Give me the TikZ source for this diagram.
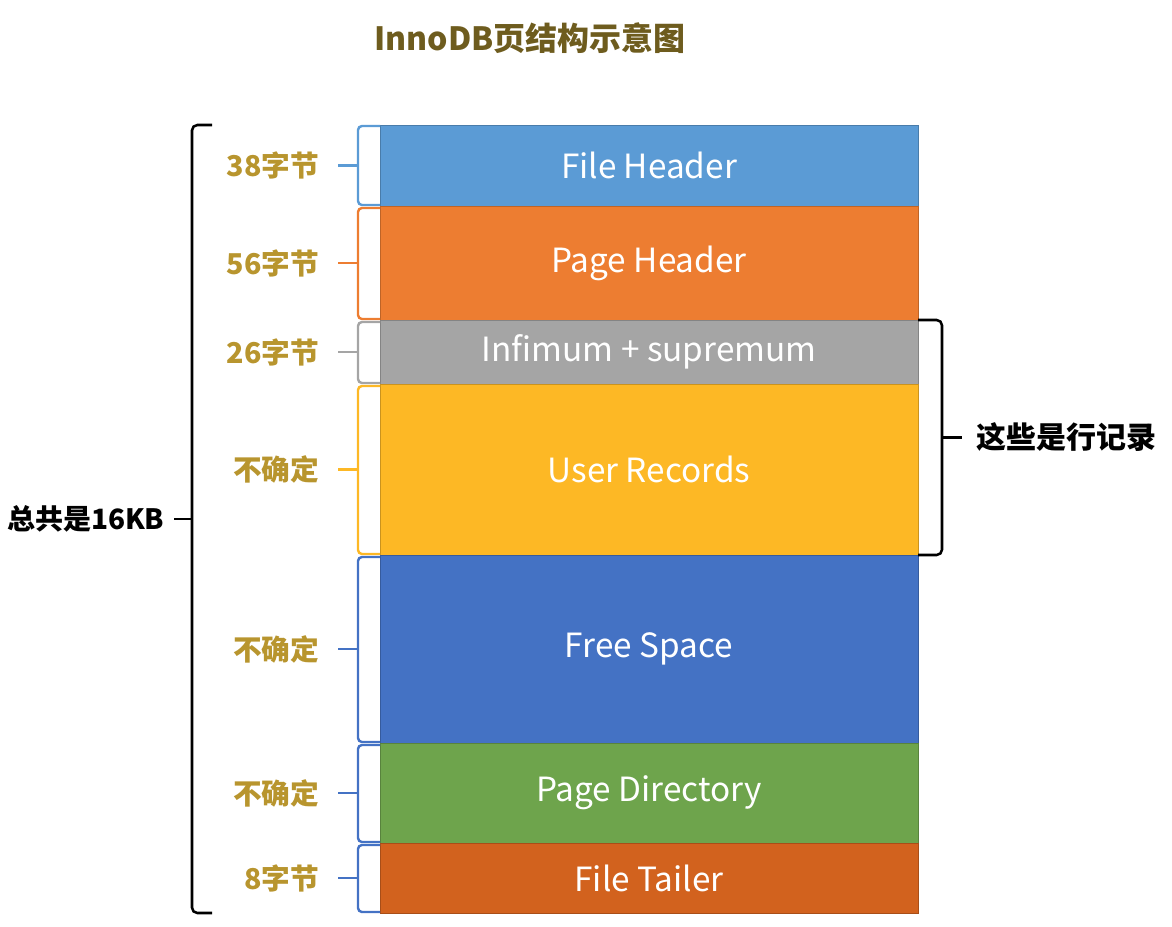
\documentclass[tikz,border=0pt]{standalone}
\usepackage{fontspec}
\setmainfont{Noto Sans CJK SC}
\usepackage{tikz}
\usetikzlibrary{positioning,calc}

\definecolor{fhblue}{HTML}{5B9BD5}
\definecolor{phorange}{HTML}{ED7D31}
\definecolor{infgray}{HTML}{A5A5A5}
\definecolor{uryellow}{HTML}{FDB825}
\definecolor{fsblue}{HTML}{4472C4}
\definecolor{pdgreen}{HTML}{6EA44C}
\definecolor{ftorange}{HTML}{D2621E}
\definecolor{lblgold}{HTML}{B8952E}
\definecolor{ttlbrown}{HTML}{6E5C1E}

\tikzset{
  blk/.style={anchor=north west, minimum width=403.5pt, inner sep=0pt, outer sep=0pt,
    text=white, font=\fontsize{25}{30}\selectfont, draw=#1!80!black, fill=#1, line width=0.4pt},
  sbrace/.style={line width=1.8pt, rounded corners=3pt},
  bbrace/.style={line width=1.9pt, rounded corners=4pt, black},
  sizelbl/.style={inner sep=0pt, text=lblgold, font=\fontsize{21.5}{24}\selectfont\bfseries},
  sidelbl/.style={inner sep=0pt, font=\fontsize{21}{24}\selectfont\bfseries}
}

\begin{document}
\begin{tikzpicture}[x=0.75pt,y=0.75pt,yscale=-1,xscale=1]
    \useasboundingbox (0,0) rectangle (1172,926);

    \node (ttl) at (530,38) [text=ttlbrown, font=\fontsize{24}{28}\selectfont\bfseries] {InnoDB页结构示意图};

    % page blocks
    \node[blk=fhblue, minimum height=60.75pt] (fh) at (380,125) {File Header};
    \node[blk=phorange, minimum height=85.5pt] (ph) at (fh.south west) {Page Header};
    \node[blk=infgray, minimum height=48pt] (inf) at (ph.south west) {Infimum + supremum};
    \node[blk=uryellow, minimum height=128.25pt] (ur) at (inf.south west) {User Records};
    \node[blk=fsblue, minimum height=141pt] (fs) at (ur.south west) {Free Space};
    \node[blk=pdgreen, minimum height=75pt] (pd) at (fs.south west) {Page Directory};
    \node[blk=ftorange, minimum height=52.5pt] (ft) at (pd.south west) {File Tailer};

    % small braces
    \draw[sbrace, fhblue] ($(fh.north west)+(0,1)$) -- ++(-22,0) -- ($(fh.south west)+(-22,-1)$) -- ++(22,0);
    \draw[sbrace, fhblue] ($(fh.west)+(-22,0)$) -- ++(-20,0) coordinate (fht);
    \draw[sbrace, phorange] ($(ph.north west)+(0,2)$) -- ++(-22,0) -- ($(ph.south west)+(-22,-1)$) -- ++(22,0);
    \draw[sbrace, phorange] ($(ph.west)+(-22,0)$) -- ++(-20,0) coordinate (pht);
    \draw[sbrace, infgray] ($(inf.north west)+(0,2)$) -- ++(-22,0) -- ($(inf.south west)+(-22,-1)$) -- ++(22,0);
    \draw[sbrace, infgray] ($(inf.west)+(-22,0)$) -- ++(-20,0) coordinate (inft);
    \draw[sbrace, uryellow] ($(ur.north west)+(0,2)$) -- ++(-22,0) -- ($(ur.south west)+(-22,-1)$) -- ++(22,0);
    \draw[sbrace, uryellow] ($(ur.west)+(-22,0)$) -- ++(-20,0) coordinate (urt);
    \draw[sbrace, fsblue] ($(fs.north west)+(0,2)$) -- ++(-22,0) -- ($(fs.south west)+(-22,-1)$) -- ++(22,0);
    \draw[sbrace, fsblue] ($(fs.west)+(-22,0)$) -- ++(-20,0) coordinate (fst);
    \draw[sbrace, fsblue] ($(pd.north west)+(0,2)$) -- ++(-22,0) -- ($(pd.south west)+(-22,-1)$) -- ++(22,0);
    \draw[sbrace, fsblue] ($(pd.west)+(-22,0)$) -- ++(-20,0) coordinate (pdt);
    \draw[sbrace, fsblue] ($(ft.north west)+(0,2)$) -- ++(-22,0) -- ($(ft.south west)+(-22,-1)$) -- ++(22,0);
    \draw[sbrace, fsblue] ($(ft.west)+(-22,0)$) -- ++(-20,0) coordinate (ftt);

    \node[sizelbl, left=14pt of fht] (fhs) {38字节};
    \node[sizelbl, left=14pt of pht] (phs) {56字节};
    \node[sizelbl, left=14pt of inft] (infs) {26字节};
    \node[sizelbl, left=14pt of urt] (urs) {不确定};
    \node[sizelbl, left=14pt of fst] (fss) {不确定};
    \node[sizelbl, left=14pt of pdt] (pds) {不确定};
    \node[sizelbl, left=14pt of ftt] (fts) {8字节};

    % whole page
    \draw[bbrace] ($(fh.north west)+(-168,0)$) -- ++(-20,0) -- ($(ft.south west)+(-188,0)$) -- ++(20,0);
    \draw[bbrace] ($(fh.north west)!0.5!(ft.south west)+(-188,0)$) -- ++(-18,0) coordinate (tott);
    \node[sidelbl, left=7pt of tott] (tot) {总共是16KB};

    % row records
    \draw[bbrace] (inf.north east) -- ++(24,0) -- ($(ur.south east)+(24,0)$) -- (ur.south east);
    \draw[bbrace] ($(inf.north east)!0.5!(ur.south east)+(24,0)$) -- ++(20,0) coordinate (rowt);
    \node[sidelbl, right=11pt of rowt, font=\fontsize{22.5}{26}\selectfont\bfseries] (row) {这些是行记录};

\end{tikzpicture}
\end{document}
